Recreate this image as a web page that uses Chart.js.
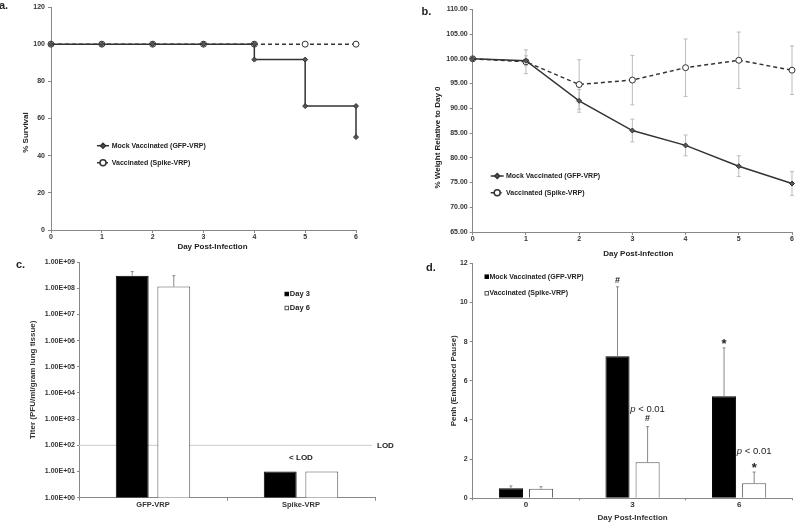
<!DOCTYPE html>
<html>
<head>
<meta charset="utf-8">
<script src="https://cdn.jsdelivr.net/npm/chart.js@4/dist/chart.umd.min.js"></script>
<style>
  body { margin: 0; background: #fff; width: 800px; height: 523px; position: relative; overflow: hidden; }
  canvas { position: absolute; }
</style>
</head>
<body>
<canvas id="chartA" width="400" height="260" style="left:0;top:0"></canvas>
<canvas id="chartB" width="400" height="260" style="left:400px;top:0"></canvas>
<canvas id="chartC" width="400" height="273" style="left:0;top:250px"></canvas>
<canvas id="chartD" width="400" height="273" style="left:400px;top:250px"></canvas>
<script>
// a. survival (step curve, so days repeat where a drop happens)
const survDaysMock = [0, 1, 2, 3, 4, 4, 5, 5, 6, 6];
const survMock = [100, 100, 100, 100, 100, 91.7, 91.7, 66.7, 66.7, 50];
const survDaysVacc = [0, 1, 2, 3, 4, 5, 6];
const survVacc = [100, 100, 100, 100, 100, 100, 100];

// b. weight
const weightDays = ['0', '1', '2', '3', '4', '5', '6'];
const weightMock = [100, 99.6, 91.5, 85.5, 82.5, 78.3, 74.8];
const weightMockErr = [0, 1.0, 2.3, 2.3, 2.1, 2.1, 2.4];
const weightVacc = [100, 99.4, 94.8, 95.7, 98.2, 99.7, 97.7];
const weightVaccErr = [0, 2.4, 5.0, 5.0, 5.8, 5.7, 4.9];

// c. lung titer
const titerGroups = ['GFP-VRP', 'Spike-VRP'];
const titerDay3 = [3.0e8, 10];
const titerDay3Err = [1.3e8, 0];
const titerDay6 = [1.15e8, 10];
const titerDay6Err = [1.85e8, 0];
const titerTicks = [1, 1e1, 1e2, 1e3, 1e4, 1e5, 1e6, 1e7, 1e8, 1e9];
const titerTickLabels = ['1.00E+00', '1.00E+01', '1.00E+02', '1.00E+03', '1.00E+04',
  '1.00E+05', '1.00E+06', '1.00E+07', '1.00E+08', '1.00E+09'];
const lodValue = 100;
const belowLodAt = 33;

// d. Penh
const penhDays = ['0', '3', '6'];
const penhMock = [0.51, 7.25, 5.21];
const penhMockErr = [0.12, 3.55, 2.47];
const penhVacc = [0.49, 1.84, 0.77];
const penhVaccErr = [0.10, 1.82, 0.57];
const penhMarks = ['#', '#', '*', '*'];
const penhMarkCat = [1, 1, 2, 2];
const penhMarkSeries = [0, 1, 0, 1];
const penhMarkValue = [11.1, 4.07, 7.87, 1.54];
const pValueCat = [1, 2];
const pValueAt = [4.56, 2.38];

const FONT = '"Liberation Sans", Arial, sans-serif';
Chart.defaults.font.family = FONT;
Chart.defaults.font.weight = 'bold';
Chart.defaults.color = '#333';
Chart.defaults.animation = false;
Chart.defaults.plugins.legend.display = false;
Chart.defaults.plugins.tooltip.enabled = false;

function noPad(s) {
  s.paddingTop = 0; s.paddingBottom = 0; s.paddingLeft = 0; s.paddingRight = 0;
}
function axisGrid(len) {
  return { drawOnChartArea: false, tickLength: len, color: '#888' };
}
const axisBorder = { color: '#888' };

// error bars from dataset.errors
function drawErrors(chart, o) {
  const ctx = chart.ctx;
  const y = chart.scales.y;
  chart.data.datasets.forEach((ds, i) => {
    if (!ds.errors) return;
    chart.getDatasetMeta(i).data.forEach((el, j) => {
      const e = ds.errors[j];
      if (!e) return;
      const v = ds.data[j];
      const top = y.getPixelForValue(v + e);
      const bot = o.both ? y.getPixelForValue(v - e) : el.y;
      ctx.save();
      ctx.strokeStyle = o.color;
      ctx.lineWidth = 1;
      ctx.beginPath();
      ctx.moveTo(el.x, top); ctx.lineTo(el.x, bot);
      ctx.moveTo(el.x - o.cap, top); ctx.lineTo(el.x + o.cap, top);
      if (o.both) { ctx.moveTo(el.x - o.cap, bot); ctx.lineTo(el.x + o.cap, bot); }
      ctx.stroke();
      ctx.restore();
    });
  });
}
const errorBars = {
  id: 'errorBars',
  beforeDatasetsDraw(chart, args, o) { if (o.under) drawErrors(chart, o); },
  afterDatasetsDraw(chart, args, o) { if (!o.under) drawErrors(chart, o); }
};

// small legend drawn inside the plot
const keyLegend = {
  id: 'key',
  afterDraw(chart, args, o) {
    const ctx = chart.ctx;
    chart.data.datasets.forEach((ds, i) => {
      const y = o.y + i * o.gap;
      ctx.save();
      if (o.box) {
        ctx.fillStyle = ds.backgroundColor;
        ctx.fillRect(o.x, y - o.box / 2, o.box, o.box);
        ctx.strokeStyle = ds.borderColor;
        ctx.lineWidth = 1;
        ctx.strokeRect(o.x, y - o.box / 2, o.box, o.box);
      } else {
        ctx.strokeStyle = ds.borderColor;
        ctx.lineWidth = ds.borderWidth;
        ctx.setLineDash(ds.borderDash || []);
        ctx.beginPath();
        ctx.moveTo(o.x, y); ctx.lineTo(o.x + o.len, y);
        ctx.stroke();
        ctx.setLineDash([]);
        ctx.fillStyle = ds.pointBackgroundColor;
        ctx.strokeStyle = ds.pointBorderColor;
        Chart.helpers.drawPoint(ctx, {
          pointStyle: ds.pointStyle, radius: ds.pointRadius,
          rotation: 0, borderWidth: ds.pointBorderWidth
        }, o.x + o.len / 2, y);
      }
      ctx.font = 'bold ' + o.size + 'px ' + FONT;
      ctx.fillStyle = '#222';
      ctx.textAlign = 'left';
      ctx.textBaseline = 'middle';
      ctx.fillText(ds.label, o.textX, y);
      ctx.restore();
    });
  }
};

// free text: panel letters and some axis titles
const notes = {
  id: 'notes',
  afterDraw(chart, args, o) {
    const ctx = chart.ctx;
    (o.items || []).forEach(n => {
      ctx.save();
      ctx.font = n.font || ('bold 8px ' + FONT);
      ctx.fillStyle = '#222';
      ctx.textAlign = n.align || 'center';
      ctx.textBaseline = 'middle';
      ctx.translate(n.x, n.y);
      if (n.rot) ctx.rotate(n.rot);
      ctx.fillText(n.text, 0, 0);
      ctx.restore();
    });
  }
};

const lineMock = {
  borderColor: '#333', borderWidth: 1.5, clip: false,
  pointStyle: 'rectRot', pointRadius: 2.5, pointBackgroundColor: '#555',
  pointBorderColor: '#333', pointBorderWidth: 1
};
const lineVacc = {
  borderColor: '#333', borderWidth: 1.5, borderDash: [4, 3], clip: false,
  pointStyle: 'circle', pointRadius: 3, pointBackgroundColor: '#fff',
  pointBorderColor: '#333', pointBorderWidth: 1
};

// ---------- a ----------
new Chart(document.getElementById('chartA'), {
  type: 'scatter',
  data: {
    datasets: [
      Object.assign({ label: 'Mock Vaccinated (GFP-VRP)', showLine: true,
        data: survDaysMock.map((d, i) => ({ x: d, y: survMock[i] })) }, lineMock),
      Object.assign({ label: 'Vaccinated (Spike-VRP)', showLine: true,
        data: survDaysVacc.map((d, i) => ({ x: d, y: survVacc[i] })) }, lineVacc)
    ]
  },
  options: {
    responsive: false,
    layout: { padding: { left: 0, top: 7, right: 44, bottom: 0 } },
    scales: {
      x: {
        min: 0, max: 6,
        ticks: { stepSize: 1, font: { size: 7 }, padding: 0 },
        grid: axisGrid(3), border: axisBorder,
        afterFit(s) { s.height = 30; noPad(s); }
      },
      y: {
        min: 0, max: 120,
        ticks: { stepSize: 20, font: { size: 7 }, padding: 3 },
        grid: axisGrid(3), border: axisBorder,
        afterFit(s) { s.width = 51; noPad(s); }
      }
    },
    plugins: {
      key: { x: 97, y: 145.7, gap: 17, len: 12, textX: 111.7, size: 7 },
      notes: { items: [
        { text: 'a.', x: -1, y: 6, align: 'left', font: 'bold 11px ' + FONT },
        { text: '% Survival', x: 26, y: 132.5, rot: -Math.PI / 2 },
        { text: 'Day Post-Infection', x: 212.5, y: 246.7 }
      ] }
    }
  },
  plugins: [keyLegend, notes]
});

// ---------- b ----------
new Chart(document.getElementById('chartB'), {
  type: 'line',
  data: {
    labels: weightDays,
    datasets: [
      Object.assign({ label: 'Mock Vaccinated (GFP-VRP)', data: weightMock, errors: weightMockErr }, lineMock),
      Object.assign({ label: 'Vaccinated (Spike-VRP)', data: weightVacc, errors: weightVaccErr }, lineVacc)
    ]
  },
  options: {
    responsive: false,
    layout: { padding: { left: 0, top: 9.3, right: 8, bottom: 0 } },
    scales: {
      x: {
        offset: false,
        ticks: { font: { size: 7 }, padding: 0 },
        grid: Object.assign(axisGrid(3), { offset: false }), border: axisBorder,
        afterFit(s) { s.height = 28; noPad(s); }
      },
      y: {
        min: 65, max: 110,
        ticks: { stepSize: 5, font: { size: 7 }, padding: 2, callback: v => v.toFixed(2) },
        grid: axisGrid(3), border: axisBorder,
        afterFit(s) { s.width = 72.7; noPad(s); }
      }
    },
    plugins: {
      errorBars: { under: true, both: true, color: '#bbb', cap: 2 },
      key: { x: 90.7, y: 176, gap: 16.7, len: 13, textX: 106, size: 7 },
      notes: { items: [
        { text: 'b.', x: 21.5, y: 12, align: 'left', font: 'bold 11px ' + FONT },
        { text: '% Weight Relative to Day 0', x: 38, y: 137.5, rot: -Math.PI / 2 },
        { text: 'Day Post-Infection', x: 238.3, y: 254 }
      ] }
    }
  },
  plugins: [errorBars, keyLegend, notes]
});

// ---------- c ----------
const lodMarks = {
  id: 'lodMarks',
  beforeDatasetsDraw(chart) {
    const { ctx, chartArea, scales: { x, y } } = chart;
    const py = y.getPixelForValue(lodValue);
    ctx.save();
    ctx.strokeStyle = '#ccc';
    ctx.lineWidth = 1;
    ctx.beginPath();
    ctx.moveTo(chartArea.left, py); ctx.lineTo(chartArea.right - 3, py);
    ctx.stroke();
    ctx.font = 'bold 8px ' + FONT;
    ctx.fillStyle = '#222';
    ctx.textBaseline = 'middle';
    ctx.textAlign = 'left';
    ctx.fillText('LOD', chartArea.right + 2, py);
    ctx.textAlign = 'center';
    ctx.fillText('< LOD', x.getPixelForValue(1), y.getPixelForValue(belowLodAt));
    ctx.restore();
  }
};

new Chart(document.getElementById('chartC'), {
  type: 'bar',
  data: {
    labels: titerGroups,
    datasets: [
      { label: 'Day 3', data: titerDay3, errors: titerDay3Err,
        backgroundColor: '#000', borderColor: '#000', borderWidth: 1 },
      { label: 'Day 6', data: titerDay6, errors: titerDay6Err,
        backgroundColor: '#fff', borderColor: '#555', borderWidth: 1 }
    ]
  },
  options: {
    responsive: false,
    layout: { padding: { left: 0, top: 12, right: 25, bottom: 0 } },
    datasets: { bar: { categoryPercentage: 0.562, barPercentage: 0.79 } },
    scales: {
      x: {
        ticks: { font: { size: 7.5 }, padding: 0 },
        grid: axisGrid(3), border: axisBorder,
        afterFit(s) { s.height = 25.3; noPad(s); }
      },
      y: {
        type: 'logarithmic', min: 1, max: 1e9,
        afterBuildTicks(s) { s.ticks = titerTicks.map(v => ({ value: v })); },
        ticks: { font: { size: 7 }, padding: 2, callback: (v, i) => titerTickLabels[i] },
        grid: axisGrid(2), border: axisBorder,
        title: { display: true, text: 'Titer (PFU/ml/gram lung tissue)', font: { size: 8 },
          padding: { top: 28.2, bottom: 0 } },
        afterFit(s) { s.width = 79; noPad(s); }
      }
    },
    plugins: {
      errorBars: { under: false, both: false, color: '#888', cap: 1.5 },
      key: { x: 285, y: 44, gap: 14, box: 3.5, textX: 289.8, size: 7.5 },
      notes: { items: [
        { text: 'c.', x: 16, y: 15, align: 'left', font: 'bold 11px ' + FONT }
      ] }
    }
  },
  plugins: [lodMarks, errorBars, keyLegend, notes]
});

// ---------- d ----------
const penhNotes = {
  id: 'penhNotes',
  afterDatasetsDraw(chart) {
    const ctx = chart.ctx;
    const y = chart.scales.y;
    ctx.save();
    ctx.fillStyle = '#222';
    ctx.textBaseline = 'middle';
    ctx.textAlign = 'center';
    penhMarks.forEach((m, i) => {
      const el = chart.getDatasetMeta(penhMarkSeries[i]).data[penhMarkCat[i]];
      ctx.font = (m === '*' ? 'bold 13px ' : 'bold 9px ') + FONT;
      ctx.fillText(m, el.x, y.getPixelForValue(penhMarkValue[i]));
    });
    pValueCat.forEach((c, i) => {
      const el = chart.getDatasetMeta(1).data[c];
      const py = y.getPixelForValue(pValueAt[i]);
      const fItal = 'italic 9.5px ' + FONT;
      const fReg = '9.5px ' + FONT;
      ctx.font = fItal;
      const w1 = ctx.measureText('p').width;
      ctx.font = fReg;
      const w2 = ctx.measureText(' < 0.01').width;
      const x0 = el.x - (w1 + w2) / 2;
      ctx.textAlign = 'left';
      ctx.font = fItal;
      ctx.fillText('p', x0, py);
      ctx.font = fReg;
      ctx.fillText(' < 0.01', x0 + w1, py);
      ctx.textAlign = 'center';
    });
    ctx.restore();
  }
};

new Chart(document.getElementById('chartD'), {
  type: 'bar',
  data: {
    labels: penhDays,
    datasets: [
      { label: 'Mock Vaccinated (GFP-VRP)', data: penhMock, errors: penhMockErr,
        backgroundColor: '#000', borderColor: '#000', borderWidth: 1 },
      { label: 'Vaccinated (Spike-VRP)', data: penhVacc, errors: penhVaccErr,
        backgroundColor: '#fff', borderColor: '#555', borderWidth: 1 }
    ]
  },
  options: {
    responsive: false,
    layout: { padding: { left: 0, top: 13.3, right: 7.6, bottom: 0 } },
    datasets: { bar: { categoryPercentage: 0.565, barPercentage: 0.8 } },
    scales: {
      x: {
        ticks: { font: { size: 8 }, padding: 0 },
        grid: axisGrid(2), border: axisBorder,
        title: { display: true, text: 'Day Post-Infection', font: { size: 8 },
          padding: { top: 0, bottom: 0.5 } },
        afterFit(s) { s.height = 24.7; noPad(s); }
      },
      y: {
        min: 0, max: 12,
        ticks: { stepSize: 2, font: { size: 7 }, padding: 2 },
        grid: axisGrid(3), border: axisBorder,
        title: { display: true, text: 'Penh (Enhanced Pause)', font: { size: 8 },
          padding: { top: 48.5, bottom: 0 } },
        afterFit(s) { s.width = 72.7; noPad(s); }
      }
    },
    plugins: {
      errorBars: { under: false, both: false, color: '#888', cap: 1.5 },
      key: { x: 85, y: 26.7, gap: 16.6, box: 3.5, textX: 89.5, size: 7 },
      notes: { items: [
        { text: 'd.', x: 26, y: 18.3, align: 'left', font: 'bold 11px ' + FONT }
      ] }
    }
  },
  plugins: [errorBars, penhNotes, keyLegend, notes]
});
</script>
</body>
</html>
